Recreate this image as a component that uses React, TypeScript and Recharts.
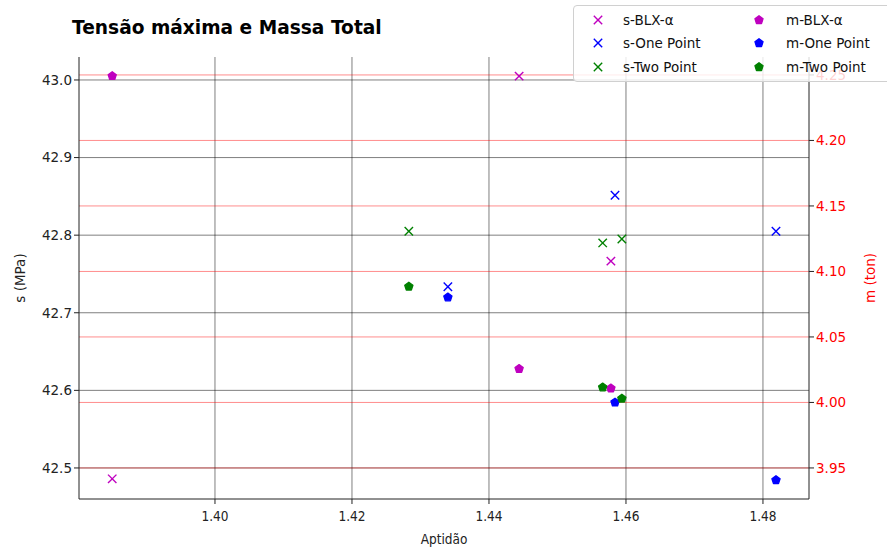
import { ScatterChart, Scatter, XAxis, YAxis, ReferenceLine } from 'recharts'

// Aptidão (x) for each method
const xBlx = [1.385, 1.4444, 1.4578]
const xOne = [1.434, 1.4584, 1.4819]
const xTwo = [1.4283, 1.4566, 1.4594]

// tensão máxima s (MPa)
const sBlx = [42.486, 43.005, 42.7665]
const sOne = [42.7335, 42.8515, 42.805]
const sTwo = [42.805, 42.79, 42.795]

// massa total m (ton)
const mBlx = [4.2492, 4.0256, 4.0107]
const mOne = [4.0802, 4.0, 3.9408]
const mTwo = [4.0885, 4.0115, 4.003]

const xTicks = [1.4, 1.42, 1.44, 1.46, 1.48]
const sTicks = [42.5, 42.6, 42.7, 42.8, 42.9, 43.0]
const mTicks = [3.95, 4.0, 4.05, 4.1, 4.15, 4.2, 4.25]

const C_MAG = '#bf00bf'
const C_BLUE = '#0000ff'
const C_GREEN = '#008000'
const FONT = '"DejaVu Sans", sans-serif'

const zip = (xs: number[], ys: number[]) => xs.map((x, i) => ({ x, y: ys[i] }))

function Cross({ cx, cy, color }: { cx?: number; cy?: number; color: string }) {
  if (cx == null || cy == null) return null
  const h = 4.2
  return (
    <g stroke={color} strokeWidth={1.4}>
      <line x1={cx - h} y1={cy - h} x2={cx + h} y2={cy + h} />
      <line x1={cx - h} y1={cy + h} x2={cx + h} y2={cy - h} />
    </g>
  )
}

function Pentagon({ cx, cy, color }: { cx?: number; cy?: number; color: string }) {
  if (cx == null || cy == null) return null
  const r = 4.3
  const pts = [0, 1, 2, 3, 4]
    .map((i) => {
      const a = -Math.PI / 2 + (i * 2 * Math.PI) / 5
      return `${cx + r * Math.cos(a)},${cy + r * Math.sin(a)}`
    })
    .join(' ')
  return <polygon points={pts} fill={color} stroke={color} strokeWidth={1.3} strokeLinejoin="round" />
}

const legendItems = [
  { name: 's-BLX-α', color: C_MAG, kind: 'x' },
  { name: 'm-BLX-α', color: C_MAG, kind: 'p' },
  { name: 's-One Point', color: C_BLUE, kind: 'x' },
  { name: 'm-One Point', color: C_BLUE, kind: 'p' },
  { name: 's-Two Point', color: C_GREEN, kind: 'x' },
  { name: 'm-Two Point', color: C_GREEN, kind: 'p' },
]

function LegendBox() {
  return (
    <div
      style={{
        position: 'absolute', left: 573, top: 5, width: 330, height: 77,
        border: '1px solid #d0d0d0', borderRadius: 4, background: 'rgba(255,255,255,0.82)',
        display: 'grid', gridTemplateColumns: '163px 160px', gridAutoRows: '23.5px',
        paddingTop: 2, boxSizing: 'border-box', fontSize: 13.5, color: '#111',
      }}
    >
      {legendItems.map((it) => (
        <div key={it.name} style={{ display: 'flex', alignItems: 'center' }}>
          <svg width={49} height={20} style={{ flex: 'none' }}>
            {it.kind === 'x' ? (
              <Cross cx={24} cy={10} color={it.color} />
            ) : (
              <Pentagon cx={22} cy={10} color={it.color} />
            )}
          </svg>
          <span style={{ whiteSpace: 'nowrap' }}>{it.name}</span>
        </div>
      ))}
    </div>
  )
}

function XTick({ x, y, payload }: { x?: number; y?: number; payload?: { value: number } }) {
  return (
    <text x={x} y={(y ?? 0) + 15} textAnchor="middle" fontSize={13.5} fill="#222"
      style={{ fontStretch: 'condensed' }}>
      {payload?.value.toFixed(2)}
    </text>
  )
}

export default function App() {
  return (
    <div style={{ position: 'absolute', left: 0, top: 0, width: 887, height: 549, fontFamily: FONT, background: '#fff' }}>
      <div style={{ position: 'absolute', left: 72, top: 17, fontSize: 18.6, fontWeight: 'bold', color: '#000', whiteSpace: 'nowrap' }}>
        Tensão máxima e Massa Total
      </div>
      <ScatterChart width={887} height={549} margin={{ top: 57, right: 18, bottom: 20, left: 19 }}>
        {xTicks.map((t) => (
          <ReferenceLine key={'x' + t} xAxisId="x" yAxisId="s" x={t} stroke="#000" strokeOpacity={0.5} strokeWidth={1} />
        ))}
        {sTicks.map((t) => (
          <ReferenceLine key={'s' + t} xAxisId="x" yAxisId="s" y={t} stroke="#000" strokeOpacity={0.5} strokeWidth={1} />
        ))}
        {mTicks.map((t) => (
          <ReferenceLine key={'m' + t} xAxisId="x" yAxisId="m" y={t} stroke="#ff0000" strokeOpacity={0.45} strokeWidth={1} />
        ))}
        <XAxis
          xAxisId="x" type="number" dataKey="x" domain={[1.38015, 1.48672]} ticks={xTicks} interval={0}
          height={30} tick={<XTick />} tickLine={{ stroke: '#222' }} axisLine={{ stroke: '#222' }} tickSize={5}
          label={{ value: 'Aptidão', position: 'insideBottom', offset: -15, fill: '#222', fontSize: 13.5, style: { fontStretch: 'condensed' } }}
        />
        <XAxis xAxisId="top" orientation="top" type="number" domain={[0, 1]} height={0} tick={false} tickLine={false} axisLine={{ stroke: '#222' }} />
        <YAxis
          yAxisId="s" type="number" dataKey="y" domain={[42.46, 43.0296]} ticks={sTicks} interval={0} width={60}
          tickFormatter={(v: number) => v.toFixed(1)} tick={{ fontSize: 13.5, fill: '#222' }} tickSize={5}
          tickLine={{ stroke: '#222' }} axisLine={{ stroke: '#222' }}
          label={{ value: 's (MPa)', angle: -90, position: 'center', dx: -29, fill: '#222', fontSize: 13.5 }}
        />
        <YAxis
          yAxisId="m" orientation="right" type="number" dataKey="y" domain={[3.9263, 4.2637]} ticks={mTicks} interval={0} width={60}
          tickFormatter={(v: number) => v.toFixed(2)} tick={{ fontSize: 13.5, fill: '#ff0000' }} tickSize={5}
          tickLine={{ stroke: '#222' }} axisLine={{ stroke: '#222' }}
          label={{ value: 'm (ton)', angle: -90, position: 'center', dx: 31, fill: '#ff0000', fontSize: 13.5 }}
        />
        <Scatter name="s-BLX-α" xAxisId="x" yAxisId="s" data={zip(xBlx, sBlx)} shape={<Cross color={C_MAG} />} isAnimationActive={false} />
        <Scatter name="s-One Point" xAxisId="x" yAxisId="s" data={zip(xOne, sOne)} shape={<Cross color={C_BLUE} />} isAnimationActive={false} />
        <Scatter name="s-Two Point" xAxisId="x" yAxisId="s" data={zip(xTwo, sTwo)} shape={<Cross color={C_GREEN} />} isAnimationActive={false} />
        <Scatter name="m-BLX-α" xAxisId="x" yAxisId="m" data={zip(xBlx, mBlx)} shape={<Pentagon color={C_MAG} />} isAnimationActive={false} />
        <Scatter name="m-One Point" xAxisId="x" yAxisId="m" data={zip(xOne, mOne)} shape={<Pentagon color={C_BLUE} />} isAnimationActive={false} />
        <Scatter name="m-Two Point" xAxisId="x" yAxisId="m" data={zip(xTwo, mTwo)} shape={<Pentagon color={C_GREEN} />} isAnimationActive={false} />
      </ScatterChart>
      <LegendBox />
    </div>
  )
}
